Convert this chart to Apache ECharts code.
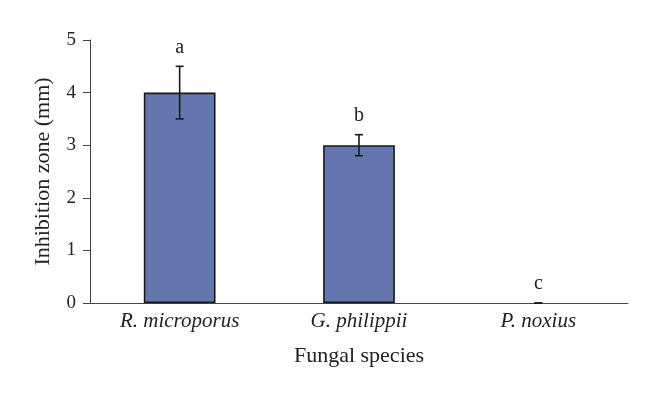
<!DOCTYPE html>
<html>
<head>
<meta charset="utf-8">
<script src="https://cdn.jsdelivr.net/npm/echarts@6/dist/echarts.min.js"></script>
<style>
  html, body { margin: 0; padding: 0; background: #fff; }
  #chart { width: 660px; height: 399px; }
</style>
</head>
<body>
<div id="chart"></div>
<script>
// 数据
const species = ['R. microporus', 'G. philippii', 'P. noxius'];
const means = [4, 3, 0];
const errors = [0.5, 0.2, 0];
const letters = ['a', 'b', 'c'];
const yTicks = [0, 1, 2, 3, 4, 5];

const FONT = 'Liberation Serif';
const INK = '#222';

const chart = echarts.init(document.getElementById('chart'));

// 值为 0 的柱子不画描边
const barData = means.map(v => (v === 0 ? { value: v, itemStyle: { borderWidth: 0 } } : v));
const errData = species.map((s, i) => [i, means[i], errors[i]]);

const option = {
    animation: false,
    backgroundColor: '#fff',
    grid: { left: 90, right: 32, top: 40, bottom: 96 },
    xAxis: {
        type: 'category',
        data: species,
        name: 'Fungal species',
        nameLocation: 'middle',
        nameGap: 42,
        nameTextStyle: { fontFamily: FONT, fontSize: 22, color: INK },
        axisLine: { lineStyle: { color: '#444', width: 1 } },
        axisTick: { show: false },
        axisLabel: {
            fontFamily: FONT, fontSize: 21, fontStyle: 'italic', color: INK, margin: 8
        }
    },
    yAxis: {
        type: 'value',
        min: yTicks[0],
        max: yTicks[yTicks.length - 1],
        interval: 1,
        name: 'Inhibition zone (mm)',
        nameLocation: 'middle',
        nameGap: 36,
        nameTextStyle: { fontFamily: FONT, fontSize: 22, color: INK },
        axisLine: { show: true, lineStyle: { color: '#444', width: 1 } },
        axisTick: { show: true, inside: false, length: 7, lineStyle: { color: '#444' } },
        axisLabel: { fontFamily: FONT, fontSize: 19, color: INK, margin: 14 },
        splitLine: { show: false }
    },
    series: [
        {
            type: 'bar',
            data: barData,
            barWidth: '40%',
            itemStyle: { color: '#6377ae', borderColor: '#1a1a1a', borderWidth: 1.6 }
        },
        {
            type: 'custom',
            data: errData,
            z: 10,
            renderItem: function (params, api) {
                const i = api.value(0);
                const m = api.value(1);
                const e = api.value(2);
                const top = api.coord([i, m + e]);
                const bot = api.coord([i, m - e]);
                const cap = 4;
                const style = { stroke: '#1a1a1a', lineWidth: 1.6 };
                return {
                    type: 'group',
                    children: [
                        { type: 'line', shape: { x1: top[0], y1: top[1], x2: bot[0], y2: bot[1] }, style: style },
                        { type: 'line', shape: { x1: top[0] - cap, y1: top[1], x2: top[0] + cap, y2: top[1] }, style: style },
                        { type: 'line', shape: { x1: bot[0] - cap, y1: bot[1], x2: bot[0] + cap, y2: bot[1] }, style: style },
                        {
                            type: 'text',
                            style: {
                                x: top[0], y: top[1] - 19,
                                text: letters[params.dataIndex],
                                align: 'center', verticalAlign: 'middle',
                                font: '20px "Liberation Serif"', fill: INK
                            }
                        }
                    ]
                };
            }
        }
    ]
};

chart.setOption(option);
</script>
</body>
</html>
